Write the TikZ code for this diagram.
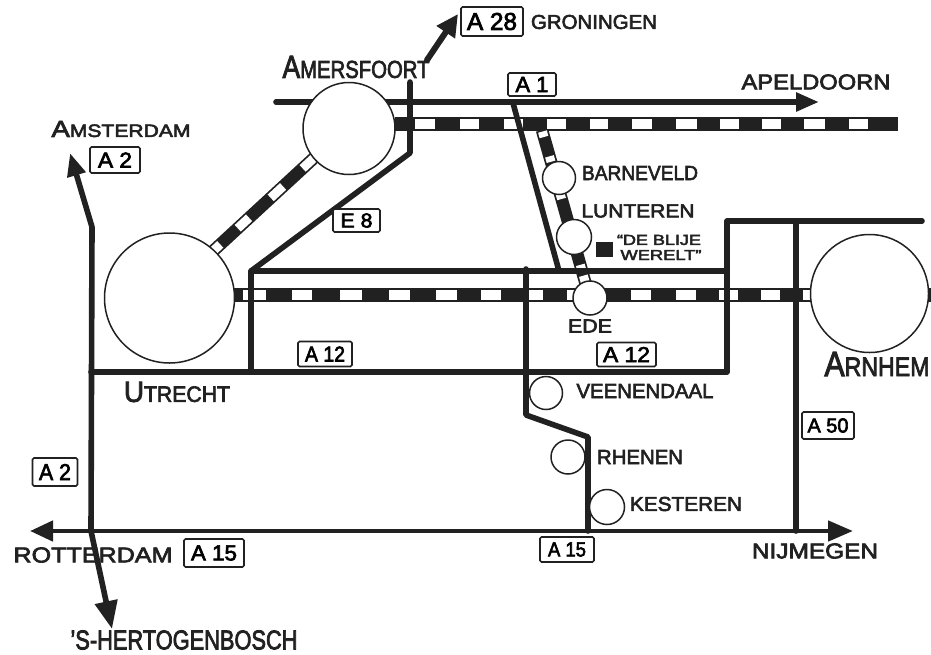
\documentclass[tikz,border=0pt]{standalone}
\usepackage{fontspec}
\setmainfont{Liberation Sans}[FakeBold=3]
\usetikzlibrary{arrows.meta,calc}
\definecolor{ink}{gray}{0.13}
\tikzset{
  rail/.style={line width=14pt,ink},
  sidetrack/.style={line width=12.5pt,ink},
  gap/.style={line width=10pt,white},
  road/.style={line width=5.6pt,ink,line cap=round,line join=round},
  thin road/.style={line width=4.6pt,ink,line cap=round,line join=round},
  town/.style={circle,draw=ink,line width=1.5pt,fill=white,inner sep=0pt},
  roadsign/.style={draw=ink,line width=1.6pt,rounded corners=1.5pt,inner sep=0pt,fill=white,anchor=center},
  lbl/.style={inner sep=0pt,text=ink,anchor=center},
}
\newcommand{\sized}[3]{\resizebox{#1pt}{#2pt}{#3}}
\newcommand{\Cap}[2]{{\fontsize{15}{15}\selectfont #1}{\fontsize{11.5}{12}\selectfont #2}}
\begin{document}
\begin{tikzpicture}[x=1pt,y=-1pt]
\useasboundingbox (0,0) rectangle (931,654);
\fill[white] (0,0) rectangle (931,654);

% town positions
\coordinate (cAmf) at (349,128.5);
\coordinate (cUtr) at (169.5,298);
\coordinate (cArn) at (869.5,293.5);
\coordinate (cEde) at (590,298);
\coordinate (cBar) at (559,178);
\coordinate (cLun) at (574,237);
\coordinate (cVee) at (546,393);
\coordinate (cRhe) at (568,457);
\coordinate (cKes) at (607,507);

% railways
\coordinate (railNW) at (395,123.5);
\coordinate (railNE) at (898,123.5);
\coordinate (railMW) at (233,295);
\coordinate (railME) at (812,295);
\coordinate (railXa) at (925,295);
\coordinate (railXb) at (931,295);
\coordinate (diagA) at (212,252);
\coordinate (diagB) at (315,157);
\coordinate (sideA) at (542,130);
\coordinate (sideB) at (586,285);
\draw[rail] (railNW) -- (railNE);
\draw[rail] (railMW) -- (railME);
\draw[rail] (railXa) -- (railXb);
\draw[sidetrack] (diagA) -- (diagB);
\draw[sidetrack] (sideA) -- (sideB);
\foreach \a/\b in {415/435,460/479,504/523,547/566,590/608,632/652,676/697,720/739,762/781,804/825,849/868}
  \draw[gap] (\a,123.5) -- (\b,123.5);
\foreach \a/\b in {243/266,292/312,340/362,389/410,436/457,481/501,528/543,567/574,631/651,676/696,719/738,761/780,803/811}
  \draw[gap] (\a,295) -- (\b,295);
\foreach \a/\b in {0/0.08,0.25/0.36,0.57/0.69,0.88/1.0}
  \draw[line width=9pt,white] ($(diagA)!\a!(diagB)$) -- ($(diagA)!\b!(diagB)$);
\foreach \a/\b in {0.01/0.045,0.17/0.205,0.41/0.445,0.87/0.905,0.94/0.985}
  \draw[line width=9pt,white] ($(sideA)!\a!(sideB)$) -- ($(sideA)!\b!(sideB)$);

% road points
\coordinate (a1W) at (276,102);
\coordinate (a1E) at (819,102);
\coordinate (a1Spur) at (513,103);
\coordinate (a1SpurEnd) at (559,271);
\coordinate (a28A) at (427,60);
\coordinate (a28B) at (458,14);
\coordinate (e8Top) at (410,82);
\coordinate (e8Bend) at (410,153);
\coordinate (e8Low) at (251,271);
\coordinate (e8Foot) at (251,372);
\coordinate (h271End) at (727,271);
\coordinate (a12R) at (727,372);
\coordinate (a12L) at (91,372);
\coordinate (northJ) at (727,221);
\coordinate (northE) at (922,221);
\coordinate (a50N) at (796,221);
\coordinate (a50S) at (796,531);
\coordinate (a2Kink) at (92,227);
\coordinate (a2Tip) at (70,153);
\coordinate (a2Cross) at (91,531);
\coordinate (a2South) at (112,629);
\coordinate (a15W) at (30,531);
\coordinate (a15E) at (853,531);
\coordinate (veeN) at (526,269);
\coordinate (veeS) at (526,415);
\coordinate (rheN) at (588,437);
\coordinate (rheS) at (588,531);

% roads
\draw[road,-{Triangle[length=23pt,width=18pt]}] (a1W) -- (a1E);
\draw[road,line width=6pt,-{Triangle[length=22pt,width=21pt]}] (a28A) -- (a28B);
\draw[road] (a1Spur) -- (a1SpurEnd);
\draw[road] (e8Top) -- (e8Bend) -- (e8Low) -- (e8Foot);
\draw[road] (e8Low) -- (h271End);
\draw[road] (a12L) -- (a12R) -- (northJ) -- (northE);
\draw[road] (a50N) -- (a50S);
\draw[road] (veeN) -- (veeS) -- (rheN) -- (rheS);
\draw[road,-{Triangle[length=23pt,width=18pt]}] (a2Cross) -- (a2Kink) -- (a2Tip);
\draw[road,-{Triangle[length=28pt,width=22pt]}] (a2Cross) -- (a2South);
\draw[thin road,-{Triangle[length=23pt,width=20pt]}] (a2Cross) -- (a15W);
\draw[thin road,-{Triangle[length=25pt,width=20pt]}] (a2Cross) -- (a15E);

% towns
\node[town,minimum size=92pt] (amersfoort) at (cAmf) {};
\node[town,minimum size=130pt] (utrecht) at (cUtr) {};
\node[town,minimum size=118pt] (arnhem) at (cArn) {};
\node[town,minimum size=34pt] (ede) at (cEde) {};
\node[town,minimum size=33pt] (barneveld) at (cBar) {};
\node[town,minimum size=35pt] (lunteren) at (cLun) {};
\node[town,minimum size=33pt] (veenendaal) at (cVee) {};
\node[town,minimum size=34pt] (rhenen) at (cRhe) {};
\node[town,minimum size=35pt] (kesteren) at (cKes) {};

% road signs
\node[roadsign,minimum width=62pt,minimum height=29pt] (sA28) at (492,21.5) {\sized{50}{17}{A 28}};
\node[roadsign,minimum width=48pt,minimum height=23pt] (sA1) at (532,84.5) {\sized{33}{15}{A 1}};
\node[roadsign,minimum width=47pt,minimum height=23pt] (sE8) at (356.5,220.5) {\sized{32}{14}{E 8}};
\node[roadsign,minimum width=50pt,minimum height=26pt] (sA2a) at (115,160) {\sized{34}{15}{A 2}};
\node[roadsign,minimum width=45pt,minimum height=28pt] (sA2b) at (55,472) {\sized{32}{16}{A 2}};
\node[roadsign,minimum width=54pt,minimum height=25pt] (sA12a) at (325,354) {\sized{40}{15}{A 12}};
\node[roadsign,minimum width=59pt,minimum height=24pt] (sA12b) at (626.5,354.5) {\sized{47}{15}{A 12}};
\node[roadsign,minimum width=52pt,minimum height=27pt] (sA50) at (828,425.5) {\sized{41}{14}{A 50}};
\node[roadsign,minimum width=60pt,minimum height=28pt] (sA15a) at (214,553) {\sized{46}{15}{A 15}};
\node[roadsign,minimum width=54pt,minimum height=25pt] (sA15b) at (567,549.5) {\sized{38}{14}{A 15}};

% the marked place
\node[fill=ink,minimum width=17pt,minimum height=15pt,inner sep=0pt] (blije) at (604.5,249.5) {};

% labels
\node[lbl] (lGro) at (594,22) {\sized{126}{14}{GRONINGEN}};
\node[lbl] (lApe) at (816,82) {\sized{149}{15}{APELDOORN}};
\node[lbl] (lAmf) at (356,67) {\sized{147}{22}{\Cap{A}{MERSFOORT}}};
\node[lbl] (lAms) at (121,129) {\sized{139}{16}{\Cap{A}{MSTERDAM}}};
\node[lbl] (lBar) at (640,173) {\sized{116}{14}{BARNEVELD}};
\node[lbl] (lLun) at (638,211) {\sized{113}{13}{LUNTEREN}};
\node[lbl] (lDe) at (659,240) {\sized{84}{10}{``DE BLIJE}};
\node[lbl] (lWer) at (661,255) {\sized{81}{10}{WERELT''}};
\node[lbl] (lEde) at (590,326) {\sized{44}{13}{EDE}};
\node[lbl] (lVee) at (645,391) {\sized{137}{14}{VEENENDAAL}};
\node[lbl] (lRhe) at (640,457) {\sized{86}{14}{RHENEN}};
\node[lbl] (lKes) at (686,504) {\sized{112}{14}{KESTEREN}};
\node[lbl] (lArn) at (877,364) {\sized{105}{24}{\Cap{A}{RNHEM}}};
\node[lbl] (lUtr) at (177,392) {\sized{106}{20}{\Cap{U}{TRECHT}}};
\node[lbl] (lRot) at (93,555) {\sized{159}{15}{ROTTERDAM}};
\node[lbl] (lNij) at (815,551) {\sized{126}{15}{NIJMEGEN}};
\node[lbl] (lHer) at (184,640) {\sized{227}{19}{'S-HERTOGENBOSCH}};
\end{tikzpicture}
\end{document}
